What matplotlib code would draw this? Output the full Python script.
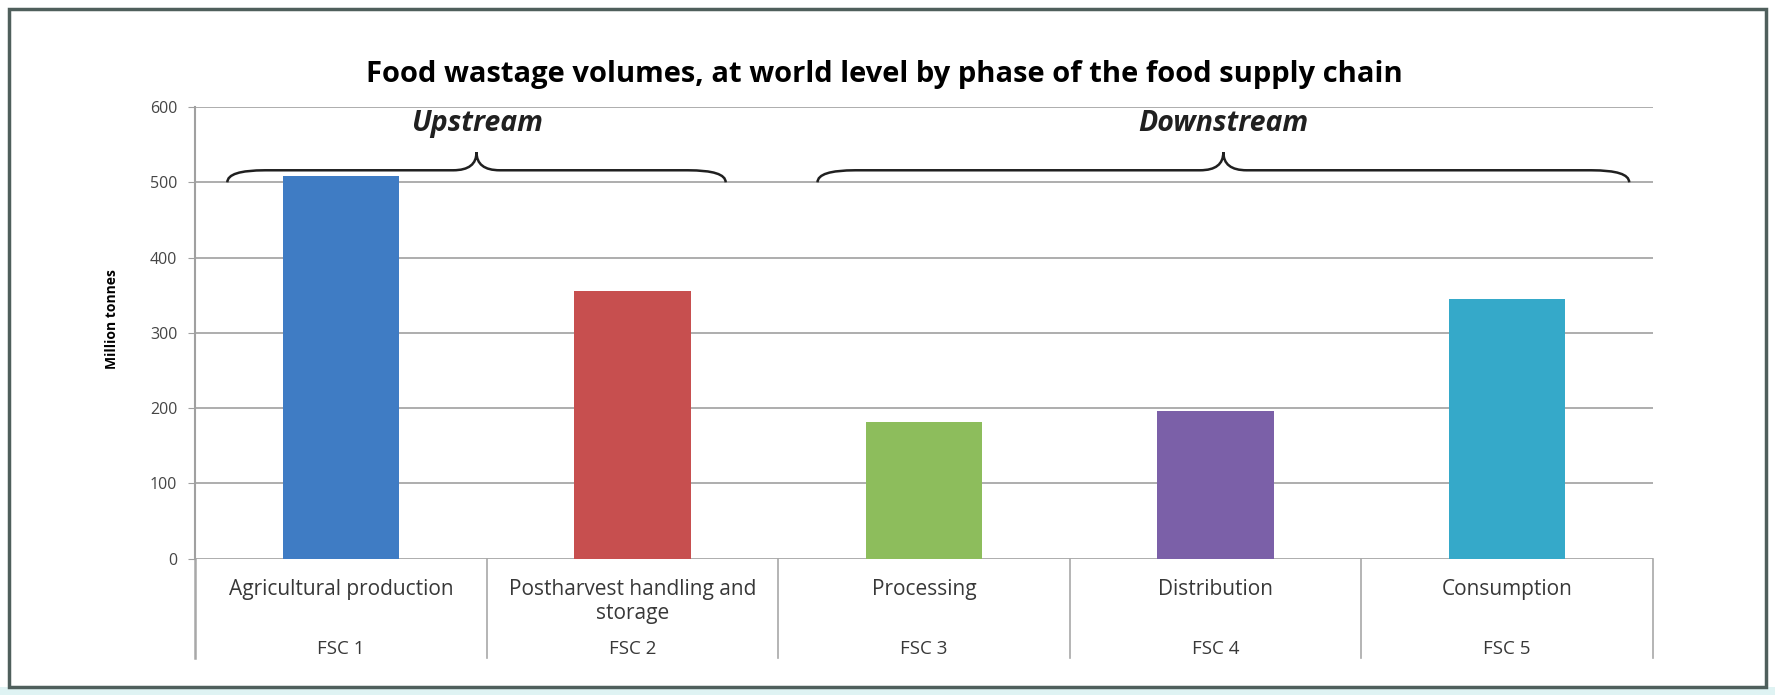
import matplotlib.pyplot as plt
from matplotlib.path import Path
from matplotlib.patches import PathPatch, Rectangle

# data
phases = ['Agricultural production', 'Postharvest handling and\nstorage',
          'Processing', 'Distribution', 'Consumption']
codes = ['FSC 1', 'FSC 2', 'FSC 3', 'FSC 4', 'FSC 5']
volumes = [508, 355, 182, 196, 345]
colors = ['#3f7cc4', '#c74f4f', '#8dbd5c', '#7b60a8', '#35a9c9']
y_ticks = [0, 100, 200, 300, 400, 500, 600]
groups = ['Upstream', 'Downstream']
group_spans = [(0, 1), (2, 4)]

plt.rcParams['font.family'] = ['Open Sans', 'DejaVu Sans']

fig = plt.figure(figsize=(17.75, 6.95), dpi=100)
fig.patch.set_facecolor('white')

# outer frame and light strip at bottom
fig.add_artist(Rectangle((0, 0), 1, 0.012, transform=fig.transFigure,
                         facecolor='#dff3f3', edgecolor='none'))
fig.add_artist(Rectangle((0.005, 0.012), 0.99, 0.975, transform=fig.transFigure,
                         facecolor='none', edgecolor='#4f5f5c', linewidth=2.5))

ax = fig.add_axes([0.110, 0.196, 0.821, 0.650])
x = range(len(volumes))
ax.bar(x, volumes, width=0.40, color=colors, zorder=3)

ax.set_xlim(-0.5, len(volumes) - 0.5)
ax.set_ylim(0, 600)
ax.set_yticks(y_ticks)
ax.set_yticklabels([str(v) for v in y_ticks], fontsize=11.5, color='#454545')
ax.yaxis.grid(True, color='#a0a0a0', linewidth=1.2, zorder=0)
ax.set_xticks([])
for s in ['top', 'right', 'bottom']:
    ax.spines[s].set_visible(False)
ax.spines['left'].set_color('#a0a0a0')
ax.spines['left'].set_linewidth(1.5)
ax.tick_params(axis='y', length=5, color='#a0a0a0', pad=8)
ax.set_ylabel('Million tonnes', fontsize=10, fontweight='bold')
ax.yaxis.set_label_coords(-0.052, 0.53)

# category table below the axis
for b in range(len(volumes) + 1):
    ax.plot([b - 0.5, b - 0.5], [0, -0.22], transform=ax.get_xaxis_transform(),
            color='#a8a8a8', linewidth=1.2 if b else 1.8, clip_on=False)
for i, (p, c) in enumerate(zip(phases, codes)):
    ax.text(i, -0.045, p, transform=ax.get_xaxis_transform(), ha='center',
            va='top', fontsize=15, color='#383838', linespacing=1.2)
    ax.text(i, -0.20, c, transform=ax.get_xaxis_transform(), ha='center',
            va='center', fontsize=13.5, color='#383838')

ax.set_title('Food wastage volumes, at world level by phase of the food supply chain',
             fontsize=21, fontweight='bold', pad=18, x=0.473)


def brace(ax, x0, x1, xt, ybase, yh, ytip):
    d = 0.13
    t = 0.08
    verts = [(x0, ybase), (x0, yh), (x0 + d, yh),
             (xt - t, yh),
             (xt, yh), (xt, ytip),
             (xt, yh), (xt + t, yh),
             (x1 - d, yh),
             (x1, yh), (x1, ybase)]
    codes_ = [Path.MOVETO, Path.CURVE3, Path.CURVE3,
              Path.LINETO,
              Path.CURVE3, Path.CURVE3,
              Path.CURVE3, Path.CURVE3,
              Path.LINETO,
              Path.CURVE3, Path.CURVE3]
    ax.add_patch(PathPatch(Path(verts, codes_), facecolor='none',
                           edgecolor='#202020', linewidth=1.8, zorder=4))


brace_ends = [(-0.39, 0.32), (-0.365, 0.42)]
for name, (a, b), (la, rb) in zip(groups, group_spans, brace_ends):
    x0, x1 = a + la, b + rb
    xt = (x0 + x1) / 2
    brace(ax, x0, x1, xt, 500, 516, 540)
    ax.text(xt, 578, name, ha='center', va='center', fontsize=20.5,
            fontweight='bold', fontstyle='italic', color='#202020')

fig.savefig('out.png', dpi=100)
